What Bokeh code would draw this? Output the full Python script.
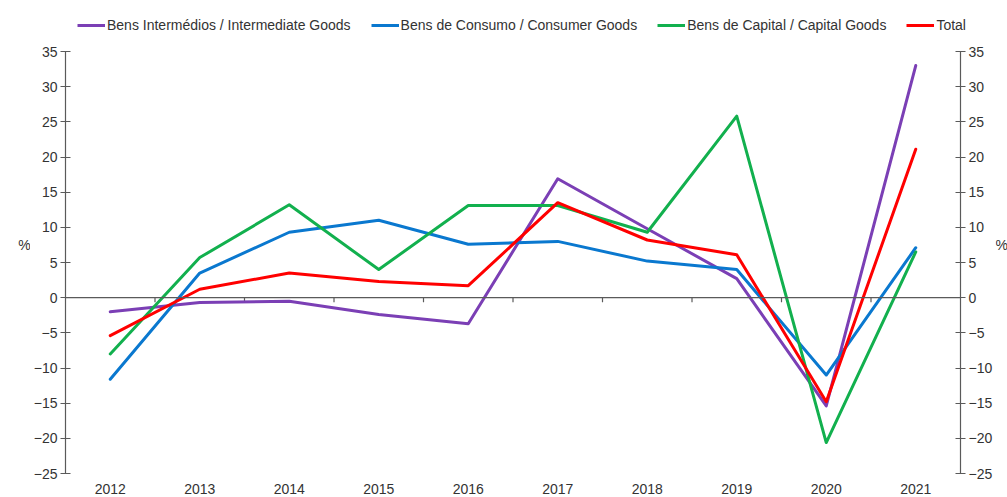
from bokeh.plotting import figure
from bokeh.layouts import column, row
from bokeh.models import (Range1d, LinearAxis, FixedTicker, Span, Legend, LegendItem)
from bokeh.core.properties import value
from bokeh.embed import file_html
from bokeh.resources import INLINE

years = [2012, 2013, 2014, 2015, 2016, 2017, 2018, 2019, 2020, 2021]
intermediate = [-2.0, -0.7, -0.5, -2.4, -3.7, 16.9, 9.8, 2.7, -15.4, 33.0]
consumer = [-11.6, 3.5, 9.3, 11.0, 7.6, 8.0, 5.2, 4.0, -11.0, 7.1]
capital = [-8.0, 5.7, 13.2, 4.0, 13.1, 13.1, 9.3, 25.8, -20.6, 6.5]
total = [-5.4, 1.2, 3.5, 2.3, 1.7, 13.5, 8.2, 6.1, -14.8, 21.1]
y_ticks = [-25, -20, -15, -10, -5, 0, 5, 10, 15, 20, 25, 30, 35]
unit = "%"

series = [
    ("Bens Intermédios / Intermediate Goods", intermediate, "#7B3FB5"),
    ("Bens de Consumo / Consumer Goods", consumer, "#0A78CF"),
    ("Bens de Capital / Capital Goods", capital, "#12B04E"),
    ("Total", total, "#FF0000"),
]

FONT = "Liberation Sans"
TXT = "#333333"
LINE = "#5a5a5a"
H = 456
TOP, BOT = 11, 21
YR = (y_ticks[0], y_ticks[-1])
unit_y = (YR[0] + YR[1]) / 2 + 2.5

def bare(fig):
    fig.outline_line_color = None
    fig.xgrid.grid_line_color = None
    fig.ygrid.grid_line_color = None

# ---- legend strip on top ----
lg = figure(width=1007, height=40, output_backend="svg", toolbar_location=None,
            x_range=Range1d(0, 1), y_range=Range1d(0, 1),
            x_axis_location=None, y_axis_location=None,
            min_border_left=66, min_border_right=0, min_border_top=0, min_border_bottom=0)
bare(lg)
items = []
for name, vals, col in series:
    r = lg.line(years, vals, line_color=col, line_width=3)
    items.append(LegendItem(label=name, renderers=[r]))
legend = Legend(items=items, orientation="horizontal", location=(11, 7),
                label_text_font=FONT, label_text_font_size="14px", label_text_color=TXT,
                glyph_width=28, glyph_height=16, label_standoff=2, spacing=20,
                padding=0, margin=0, border_line_color=None, background_fill_alpha=0)
lg.add_layout(legend)

# ---- unit labels left / right ----
def unit_fig(w, xpos, align):
    f = figure(width=w, height=H, output_backend="svg", toolbar_location=None,
               x_range=Range1d(0, w), y_range=Range1d(*YR),
               x_axis_location=None, y_axis_location=None,
               min_border_left=0, min_border_right=0, min_border_top=TOP, min_border_bottom=BOT)
    bare(f)
    f.text(x=[xpos], y=[unit_y], text=[unit], text_font=value(FONT), text_font_size="14px",
           text_color=TXT, text_align=align, text_baseline="middle")
    return f

pl = unit_fig(30, 24, "center")
pr = unit_fig(12, 0, "left")

# ---- main chart ----
p = figure(width=965, height=H, output_backend="svg", toolbar_location=None,
           x_range=Range1d(years[0] - 0.5, years[-1] + 0.5), y_range=Range1d(*YR),
           min_border_left=32, min_border_right=31, min_border_top=TOP, min_border_bottom=BOT)
bare(p)

xa = p.xaxis[0]
xa.ticker = FixedTicker(ticks=years)
xa.axis_line_color = None
xa.major_tick_line_color = None
xa.minor_tick_line_color = None
xa.major_label_text_font = FONT
xa.major_label_text_font_size = "14px"
xa.major_label_text_color = TXT
xa.major_label_standoff = 4

def style_y(ax):
    ax.ticker = FixedTicker(ticks=y_ticks)
    ax.axis_line_color = LINE
    ax.axis_line_width = 1.2
    ax.major_tick_line_color = LINE
    ax.major_tick_line_width = 1.2
    ax.major_tick_in = 5
    ax.major_tick_out = 5
    ax.minor_tick_line_color = None
    ax.major_label_text_font = FONT
    ax.major_label_text_font_size = "14px"
    ax.major_label_text_color = TXT
    ax.major_label_standoff = 3

style_y(p.yaxis[0])
ra = LinearAxis()
style_y(ra)
p.add_layout(ra, "right")

p.add_layout(Span(location=0, dimension="width", line_color=LINE, line_width=1.2))
bx = [y + 0.5 for y in years[:-1]]
p.segment(x0=bx, x1=bx, y0=[0] * len(bx), y1=[-0.65] * len(bx), line_color=LINE, line_width=1.2)

for name, vals, col in series:
    p.line(years, vals, line_color=col, line_width=3, line_join="round", line_cap="round")

layout = column(lg, row(pl, p, pr, spacing=0), spacing=0)
open("out.html", "w").write(file_html(layout, INLINE))
